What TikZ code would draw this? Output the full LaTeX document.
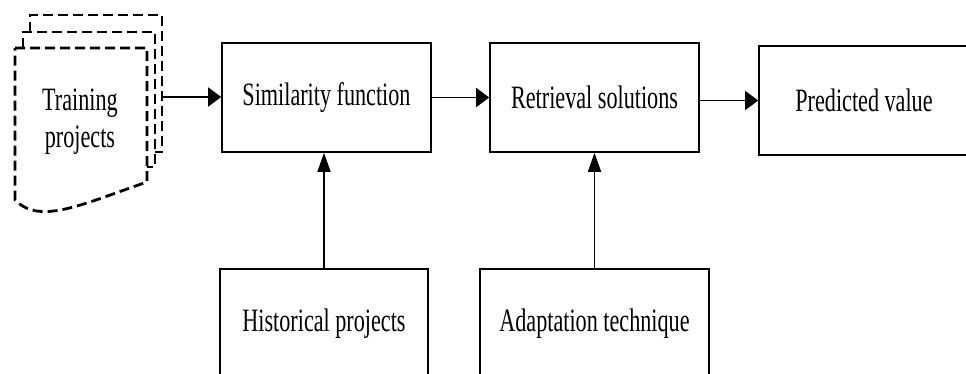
\documentclass[tikz,border=0pt]{standalone}
\usepackage{fontspec}
\setmainfont[FakeStretch=0.68]{Liberation Serif}
\usetikzlibrary{arrows.meta}

\begin{document}
\begin{tikzpicture}[x=1pt, y=-1pt, line width=1.6pt, font=\fontsize{32.6}{37}\selectfont,
	block/.style={draw, rectangle, inner sep=0pt, minimum width=209pt, minimum height=109pt},
	sheet/.style={dash pattern=on 10pt off 5pt, line width=2.8pt},
	harrow/.style={-{Triangle[length=13pt, width=19pt]}},
	varrow/.style={-{Triangle[length=19pt, width=13pt]}}]
	\useasboundingbox (0,0) rectangle (966,373);
	\clip (0,0) rectangle (966,373);
	\draw[sheet] (30,32) -- (30,15) -- (162,15) -- (162,152) -- (155,152);
	\draw[sheet] (23,48) -- (23,32) -- (155,32) -- (155,167) -- (147,167);
	\draw[sheet] (15,48) -- (147,48) -- (147,182) .. controls (80,205) and (40,225) .. (15,200) -- cycle;
	\node[align=center] (train) at (80,122) {Training\\projects};
	\coordinate (stackout) at (162,97);
	\node[block] (sim) at (326.5,97.5) {Similarity function};
	\node[block] (ret) at (594.5,97.5) {Retrieval solutions};
	\node[block, minimum width=210pt] (pred) at (864,100.5) {Predicted value};
	\node[block, minimum width=208pt, minimum height=110pt] (hist) at (324,324) {Historical projects};
	\node[block, minimum width=229pt, minimum height=110pt] (adapt) at (594.5,324) {Adaptation technique};
	\draw[harrow] (stackout) -- (stackout -| sim.west);
	\draw[harrow] (sim.east) -- (ret.west);
	\draw[harrow] (ret.east |- pred.west) -- (pred.west);
	\draw[varrow] (hist.north) -- (hist.north |- sim.south);
	\draw[varrow] (adapt.north) -- (adapt.north |- ret.south);
\end{tikzpicture}
\end{document}
